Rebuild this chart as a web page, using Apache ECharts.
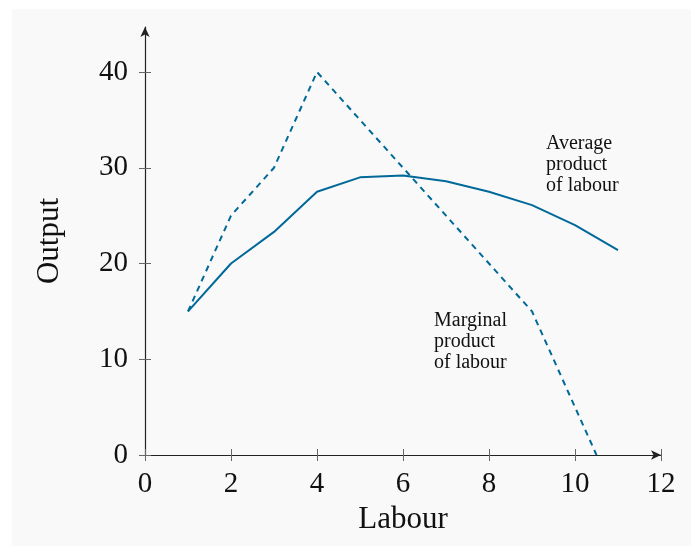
<!DOCTYPE html>
<html>
<head>
<meta charset="utf-8">
<script src="https://cdn.jsdelivr.net/npm/echarts@6/dist/echarts.min.js"></script>
<style>
  html, body { margin: 0; padding: 0; background: #fff; }
  #main { width: 691px; height: 546px; }
</style>
</head>
<body>
<div id="main"></div>
<script>
var labour = [1, 2, 3, 4, 5, 6, 7, 8, 9, 10, 11];
var averageProduct = [15, 20, 23.3, 27.5, 29, 29.2, 28.6, 27.5, 26.1, 24, 21.4];
var marginalLabour = [1, 2, 3, 4, 5, 6, 7, 8, 9, 10.5];
var marginalProduct = [15, 25, 30, 40, 35, 30, 25, 20, 15, 0];
var yTicks = [0, 10, 20, 30, 40];

var chart = echarts.init(document.getElementById('main'));
var serif = 'Liberation Serif';
var lineColor = '#00699a';

function pairs(xs, ys) {
    var res = [];
    for (var i = 0; i < xs.length; i++) res.push([xs[i], ys[i]]);
    return res;
}

var option = {
    animation: false,
    textStyle: { fontFamily: serif },
    graphic: [{
        type: 'rect', z: -10, silent: true,
        shape: { x: 12, y: 9, width: 700, height: 560 },
        style: { fill: '#f9f9f9' }
    }, {
        type: 'text', left: 546, top: 133, silent: true,
        style: { text: 'Average\nproduct\nof labour', font: '20px "Liberation Serif"', lineHeight: 21, fill: '#111' }
    }, {
        type: 'text', left: 434, top: 310, silent: true,
        style: { text: 'Marginal\nproduct\nof labour', font: '20px "Liberation Serif"', lineHeight: 21, fill: '#111' }
    }],
    grid: { left: 145, right: 30, top: 27, bottom: 91 },
    xAxis: [{
        type: 'value', min: 0, max: 12, interval: 2,
        name: 'Labour', nameLocation: 'middle', nameGap: 49,
        nameTextStyle: { fontSize: 31, color: '#111', fontFamily: serif },
        axisLine: { show: true, symbol: ['none', 'arrow'], symbolSize: [7, 10], lineStyle: { color: '#222', width: 1.2 } },
        axisTick: { show: true, length: 6, lineStyle: { color: '#666' } },
        axisLabel: { fontSize: 29, color: '#111', margin: 15, fontFamily: serif },
        splitLine: { show: false }
    }, {
        type: 'value', min: 0, max: 12, interval: 2, position: 'bottom',
        axisLine: { show: false },
        axisTick: { show: true, inside: true, length: 6, lineStyle: { color: '#666' } },
        axisLabel: { show: false },
        splitLine: { show: false }
    }],
    yAxis: [{
        type: 'value', min: 0, max: 44.7, interval: 10,
        name: 'Output', nameLocation: 'middle', nameGap: 80, nameRotate: 90,
        nameTextStyle: { fontSize: 31, color: '#111', fontFamily: serif },
        axisLine: { show: true, symbol: ['none', 'arrow'], symbolSize: [7, 10], lineStyle: { color: '#222', width: 1.2 } },
        axisTick: { show: true, length: 6, customValues: yTicks, lineStyle: { color: '#666' } },
        axisLabel: { fontSize: 29, color: '#111', margin: 17, customValues: yTicks, fontFamily: serif },
        splitLine: { show: false }
    }, {
        type: 'value', min: 0, max: 44.7, interval: 10, position: 'left',
        axisLine: { show: false },
        axisTick: { show: true, inside: true, length: 6, customValues: yTicks, lineStyle: { color: '#666' } },
        axisLabel: { show: false },
        splitLine: { show: false }
    }],
    series: [{
        name: 'Average product of labour',
        type: 'line',
        data: pairs(labour, averageProduct),
        symbol: 'none',
        lineStyle: { color: lineColor, width: 2 }
    }, {
        name: 'Marginal product of labour',
        type: 'line',
        data: pairs(marginalLabour, marginalProduct),
        symbol: 'none',
        lineStyle: { color: lineColor, width: 2, type: [6, 5] }
    }]
};
chart.setOption(option);
</script>
</body>
</html>
